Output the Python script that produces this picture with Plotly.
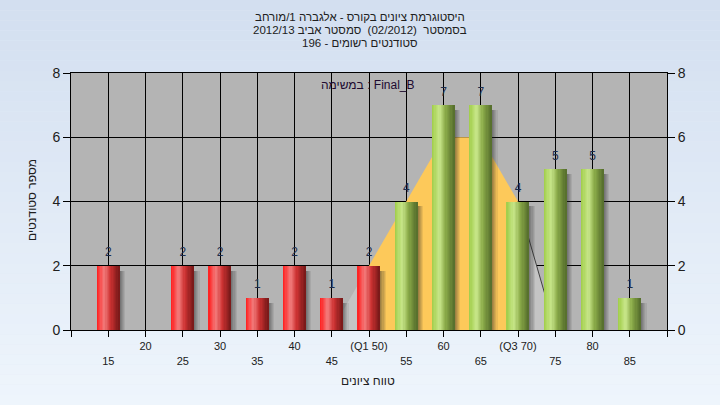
import plotly.graph_objects as go

# ---------------- data ----------------
grades = [15, 20, 25, 30, 35, 40, 45, 50, 55, 60, 65, 70, 75, 80, 85]
counts = [2, 0, 2, 2, 1, 2, 1, 2, 4, 7, 7, 4, 5, 5, 1]
tick_labels = ["15", "20", "25", "30", "35", "40", "45", "(Q1 50)",
               "55", "60", "65", "(Q3 70)", "75", "80", "85"]
x_range = [10, 90]
pass_mark = 55
q1, q3 = 50, 70
curve_x = [45, 50, 55, 60, 65, 70, 75]
curve_y = [0, 2, 4, 6, 6, 4, 0]

title_lines = ["היסטוגרמת ציונים בקורס - אלגברה 1/מורחב",
               "בסמסטר  (02/2012)  סמסטר אביב 2012/13",
               "סטודנטים רשומים - 196"]
task_label = "במשימה : Final_B"
x_title = "טווח ציונים"
y_title = "מספר סטודנטים"

# ---------------- geometry / style ----------------
W, H = 720, 405
ML, MR, MT, MB = 71, 53, 73, 75
PW, PH = W - ML - MR, H - MT - MB
FONT = "Liberation Sans, Arial, sans-serif"


def px_x(px):
    return (px - ML) / PW


def px_y(py):
    return (H - MB - py) / PH


def lerp(c1, c2, t):
    return tuple(int(round(a + (b - a) * t)) for a, b in zip(c1, c2))


def grad(stops, t):
    for (p0, c0), (p1, c1) in zip(stops, stops[1:]):
        if p0 <= t <= p1:
            return lerp(c0, c1, (t - p0) / (p1 - p0))
    return stops[-1][1]


red_stops = [(0.0, (255, 28, 28)), (0.33, (242, 124, 124)),
             (0.62, (205, 50, 50)), (1.0, (118, 24, 24))]
green_stops = [(0.0, (160, 205, 72)), (0.33, (200, 230, 138)),
               (0.62, (138, 170, 72)), (1.0, (84, 108, 44))]

fig = go.Figure()

# background gradient of page
shapes = []
nb = 40
top_c, bot_c = (211, 223, 240), (238, 245, 252)
for i in range(nb):
    c = lerp(top_c, bot_c, i / (nb - 1))
    shapes.append(dict(type="rect", xref="paper", yref="paper", layer="below",
                       x0=px_x(0), x1=px_x(W), y0=px_y(H * (i + 1) / nb), y1=px_y(H * i / nb),
                       fillcolor="rgb(%d,%d,%d)" % c, line_width=0))
# plot area background
shapes.append(dict(type="rect", xref="paper", yref="paper", layer="below",
                   x0=0, x1=1, y0=0, y1=1, fillcolor="#b4b4b4", line_width=0))

# distribution area (main subplot, drawn beneath the bars)
in_x = [x for x in curve_x if q1 <= x <= q3]
in_y = [y for x, y in zip(curve_x, curve_y) if q1 <= x <= q3]
lo_x = [x for x in curve_x if x <= q1]
lo_y = [y for x, y in zip(curve_x, curve_y) if x <= q1]
hi_x = [x for x in curve_x if x >= q3]
hi_y = [y for x, y in zip(curve_x, curve_y) if x >= q3]
for xs, ys, col in [(lo_x, lo_y, "#c4c4c4"), (hi_x, hi_y, "#c4c4c4"), (in_x, in_y, "#fdc95a")]:
    fig.add_trace(go.Scatter(x=xs, y=ys, mode="lines", fill="tozeroy", fillcolor=col,
                             line=dict(width=0), hoverinfo="skip", showlegend=False))
fig.add_trace(go.Scatter(x=hi_x, y=hi_y, mode="lines", line=dict(width=1, color="#404040"),
                         hoverinfo="skip", showlegend=False))

# bars (overlay subplot, drawn above the area)
BW = 3.0
ns = 5
for i in range(ns):
    a = 0.45 * (1 - i / ns)
    fig.add_trace(go.Bar(x=grades, y=[max(0, c - 0.15) for c in counts],
                         width=0.75 / ns, offset=BW / 2 + i * 0.75 / ns,
                         xaxis="x2", yaxis="y2",
                         marker=dict(color="rgba(40,40,40,%.3f)" % a, line_width=0),
                         hoverinfo="skip", showlegend=False))
N = 18
for i in range(N):
    t = (i + 0.5) / N
    cols = []
    for g in grades:
        stops = red_stops if g < pass_mark else green_stops
        cols.append("rgb(%d,%d,%d)" % grad(stops, t))
    fig.add_trace(go.Bar(x=grades, y=counts, width=BW / N * 1.2, offset=-BW / 2 + i * BW / N,
                         xaxis="x2", yaxis="y2",
                         marker=dict(color=cols, line_width=0),
                         hoverinfo="skip", showlegend=False))

# value labels
fig.add_trace(go.Scatter(x=grades, y=counts, mode="markers+text",
                         xaxis="x2", yaxis="y2",
                         marker=dict(size=9, opacity=0),
                         text=[str(c) if c else "" for c in counts],
                         textposition="top center",
                         textfont=dict(family=FONT, size=12, color="#1c2c4c"),
                         cliponaxis=False, hoverinfo="skip", showlegend=False))

tickvals = [x_range[0]] + grades + [x_range[1]]
ticktext = [""] + [("" if i % 2 == 1 else "<br>") + lab for i, lab in enumerate(tick_labels)] + [""]

annotations = []
for i, line in enumerate(title_lines):
    annotations.append(dict(text=line, xref="paper", yref="paper", x=px_x(360), y=px_y(17 + 13.2 * i),
                            showarrow=False, xanchor="center", yanchor="middle",
                            font=dict(family=FONT, size=11.5, color="#202020")))
annotations.append(dict(text=task_label, xref="paper", yref="paper", x=px_x(368), y=px_y(85),
                        showarrow=False, xanchor="center", yanchor="middle",
                        font=dict(family=FONT, size=12, color="#200a30")))
annotations.append(dict(text=x_title, xref="paper", yref="paper", x=px_x(368), y=px_y(381),
                        showarrow=False, xanchor="center", yanchor="middle",
                        font=dict(family=FONT, size=12, color="#202020")))
annotations.append(dict(text=y_title, xref="paper", yref="paper", x=px_x(32), y=px_y(200),
                        showarrow=False, xanchor="center", yanchor="middle", textangle=-90,
                        font=dict(family=FONT, size=12, color="#202020")))

fig.update_layout(
    width=W, height=H, margin=dict(l=ML, r=MR, t=MT, b=MB),
    paper_bgcolor="rgb(225,234,246)", plot_bgcolor="rgba(0,0,0,0)",
    barmode="overlay", bargap=0, showlegend=False,
    shapes=shapes, annotations=annotations,
    font=dict(family=FONT, size=12, color="#202020"),
    xaxis=dict(range=x_range, tickvals=tickvals, ticktext=ticktext, tickangle=0,
               showgrid=True, gridcolor="black", gridwidth=1, zeroline=False,
               showline=True, linecolor="black", linewidth=1, mirror=True,
               ticks="outside", ticklen=6, tickcolor="black",
               tickfont=dict(family=FONT, size=11, color="#202020")),
    yaxis=dict(range=[0, 8], dtick=2, showgrid=True, gridcolor="black", gridwidth=1,
               zeroline=False, showline=True, linecolor="black", linewidth=1, mirror=True,
               ticks="outside", ticklen=7, tickcolor="black",
               tickfont=dict(family=FONT, size=14, color="#202020")),
    xaxis2=dict(range=x_range, overlaying="x", matches="x", visible=False),
    yaxis2=dict(range=[0, 8], dtick=2, overlaying="y", matches="y", side="right",
                showgrid=False, zeroline=False, ticks="outside", ticklen=7, tickcolor="black",
                tickfont=dict(family=FONT, size=14, color="#202020")),
)

fig.write_html("out.html", config={"displayModeBar": False},
               post_script="document.body.style.margin='0';")
